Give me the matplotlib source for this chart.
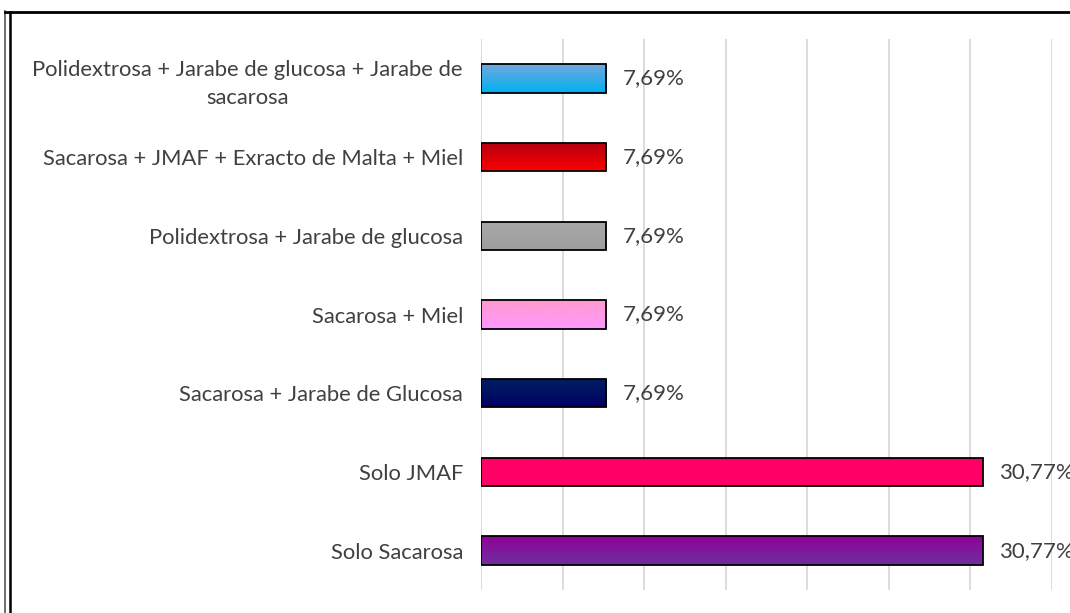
import numpy as np
import matplotlib.pyplot as plt
from matplotlib.colors import LinearSegmentedColormap
from matplotlib.lines import Line2D

# datos (de abajo hacia arriba)
categorias = [
    'Solo Sacarosa',
    'Solo JMAF',
    'Sacarosa + Jarabe de Glucosa',
    'Sacarosa + Miel',
    'Polidextrosa + Jarabe de glucosa',
    'Sacarosa + JMAF + Exracto de Malta + Miel',
    'Polidextrosa + Jarabe de glucosa + Jarabe de\nsacarosa',
]
valores = [30.77, 30.77, 7.69, 7.69, 7.69, 7.69, 7.69]

# degradado vertical: (color arriba, color abajo)
colores = [
    ('#7030A0', '#8E0098'),
    ('#FF0066', '#FF0066'),
    ('#000066', '#002060'),
    ('#FF99FF', '#FF99CC'),
    ('#9E9E9E', '#A8A8A8'),
    ('#FF0000', '#B00010'),
    ('#00B0F0', '#70A8E0'),
]

plt.rcParams['font.family'] = ['Lato', 'DejaVu Sans']

fig = plt.figure(figsize=(10.7, 6.13), dpi=100)
ax = fig.add_axes([481 / 1070, 1 - 590 / 613, (1052 - 481) / 1070, (590 - 39) / 613])

y = np.arange(len(categorias))
alto = 0.36
barras = ax.barh(y, valores, height=alto, color='none', edgecolor='black', linewidth=1.3, zorder=3)

grad = np.linspace(0, 1, 256).reshape(-1, 1)
for b, (c_top, c_bot) in zip(barras, colores):
    cmap = LinearSegmentedColormap.from_list('g', [c_top, c_bot])
    x0, y0 = b.get_x(), b.get_y()
    w, h = b.get_width(), b.get_height()
    im = ax.imshow(grad, cmap=cmap, aspect='auto', extent=(x0, x0 + w, y0 + h, y0),
                   origin='upper', zorder=2)
    im.set_clip_path(b)

for yi, v in zip(y, valores):
    ax.text(v + 1.0, yi, f'{v:.2f}%'.replace('.', ','), va='center', ha='left',
            fontsize=16, color='#404040', clip_on=False)

ax.set_xlim(0, 35)
ax.set_ylim(-0.5, len(categorias) - 0.5)
ax.set_xticks(np.arange(0, 36, 5))
ax.xaxis.grid(True, color='#D9D9D9', linewidth=1.3, zorder=0)
ax.set_axisbelow(True)
ax.tick_params(axis='x', length=0, labelbottom=False)
ax.tick_params(axis='y', length=0, pad=13)
ax.set_yticks(y)
ax.set_yticklabels(categorias, fontsize=15.8, color='#404040', multialignment='center',
                   linespacing=1.5)
for s in ax.spines.values():
    s.set_visible(False)

# marco
fig.add_artist(Line2D([4.5 / 1070, 4.5 / 1070], [0, 1 - 11 / 613], color='#555555', lw=1.2))
fig.add_artist(Line2D([10 / 1070, 10 / 1070], [0, 1 - 11.5 / 613], color='black', lw=1.8))
fig.add_artist(Line2D([4.5 / 1070, 1], [1 - 11.5 / 613, 1 - 11.5 / 613], color='black', lw=2))

fig.savefig('out.png', dpi=100)
